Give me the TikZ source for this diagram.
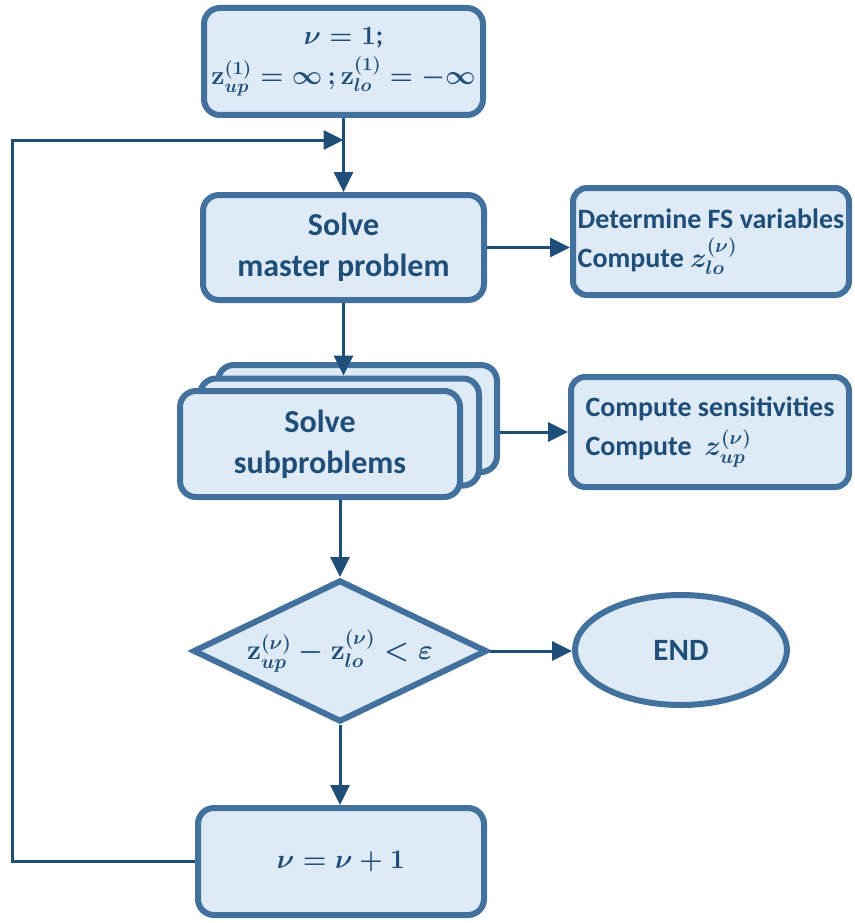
\RequirePackage{fix-cm}
\documentclass[tikz,border=0pt]{standalone}
\usepackage{amsmath}
\usepackage{fontspec}
\setmainfont{Carlito}
\usetikzlibrary{arrows.meta,shapes.geometric,calc}
\definecolor{boxfill}{HTML}{DEEBF7}
\definecolor{boxline}{HTML}{41719C}
\definecolor{ink}{HTML}{1F4E79}
\begin{document}
\begin{tikzpicture}[x=1pt,y=-1pt,
  box/.style={draw=boxline,fill=boxfill,line width=6pt,rounded corners=16pt,
    text=ink,font=\fontsize{32}{41}\selectfont\bfseries\boldmath,align=center,inner sep=0pt},
  sidebox/.style={box,font=\fontsize{28}{34}\selectfont\bfseries\boldmath,align=left,
    rounded corners=14pt},
  flow/.style={draw=ink,line width=3pt,-{Triangle[length=20pt,width=19pt]}}]
\useasboundingbox (0,0) rectangle (854,923);

% main column
\node[box,minimum width=279pt,minimum height=107pt,
  font=\fontsize{26.5}{40}\selectfont\bfseries\boldmath] (top) at (343.5,61.5)
  {$\nu = 1$;\\$\mathbf{z}_{up}^{(1)} = \infty\,; \mathbf{z}_{lo}^{(1)} = -\infty$};
\node[box,minimum width=281pt,minimum height=105pt] (master) at (343.5,247.5)
  {Solve\\master problem};

% stacked subproblem boxes
\node[box,minimum width=279pt,minimum height=107pt] (subb) at (357.5,418.5) {};
\node[box,minimum width=279pt,minimum height=107pt] (subm) at (339.5,432) {};
\node[box,minimum width=280pt,minimum height=106pt] (subf) at (320,444)
  {Solve\\subproblems};

\node[draw=boxline,fill=boxfill,line width=6pt,shape=diamond,aspect=2,inner sep=0pt,
  minimum width=294pt,minimum height=142pt,text=ink,
  font=\fontsize{28}{34}\selectfont\bfseries\boldmath] (dia) at (340,651)
  {$\mathbf{z}_{up}^{(\nu)} - \mathbf{z}_{lo}^{(\nu)} < \boldsymbol{\varepsilon}$};

\node[box,minimum width=286pt,minimum height=107pt,
  font=\fontsize{27}{35}\selectfont\bfseries\boldmath] (last) at (341,861.5)
  {$\nu = \nu + 1$};

% side column
\node[sidebox,minimum width=276pt,minimum height=107pt] (fs) at (711,241.5)
  {Determine FS variables\\[5pt]Compute $z_{lo}^{(\nu)}$};
\node[sidebox,minimum width=278pt,minimum height=110pt] (sens) at (710,432)
  {Compute sensitivities\\[5pt]Compute \ $z_{up}^{(\nu)}$};
\node[draw=boxline,fill=boxfill,line width=6pt,ellipse,inner sep=0pt,
  minimum width=212pt,minimum height=110pt,
  text=ink,font=\fontsize{31}{37}\selectfont\bfseries] (end) at (681,650) {END};

% connectors
\coordinate (loopin) at (343.5,140);
\draw[flow] (top.south) -- (master.north);
\draw[flow] (last.west) -| (12,140) -- (loopin);
\draw[flow] (master.east) -- (master.east -| fs.west);
\draw[flow] (master.south) -- (master.south |- subm.north);
\draw[flow] (subb.east |- sens.west) -- (sens.west);
\draw[flow] (dia.north |- subf.south) -- (dia.north);
\draw[flow] (dia.east) -- (dia.east -| end.west);
\draw[flow] (dia.south) -- (dia.south |- last.north);
\end{tikzpicture}
\end{document}
